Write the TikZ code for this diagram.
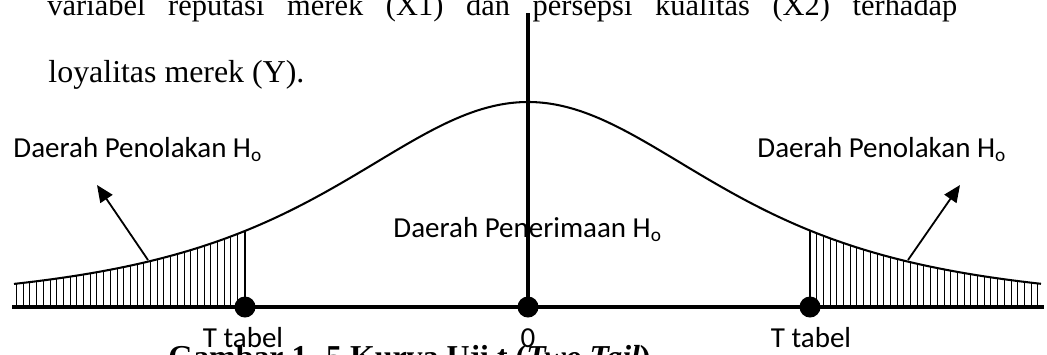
\documentclass[tikz,border=0pt]{standalone}
\usepackage{fontspec}
\setmainfont{Liberation Serif}
\newfontfamily\labfont{Carlito}
\usetikzlibrary{arrows.meta}
\begin{document}
\begin{tikzpicture}[x=0.414pt,y=-0.414pt,
 declare function={hh(\t)=205/((1+((\t-528)/318)^2)^1.7);},
 lab/.style={font=\labfont\fontsize{12}{14}\selectfont, inner sep=0pt},
 body/.style={font=\fontsize{13.2}{15}\selectfont, inner sep=0pt},
 topline/.style={font=\fontsize{12.6}{15}\selectfont, inner sep=0pt},
 axisline/.style={line width=1.3pt},
 curveline/.style={line width=0.85pt},
 hatchline/.style={line width=0.38pt},
 pointer/.style={line width=0.75pt,-{Triangle[length=7pt,width=6pt]}},
 dot/.style={circle,fill=black,minimum size=8.7pt,inner sep=0pt}]
\useasboundingbox (0,0) rectangle (1047,354);
\clip (0,0) rectangle (1047,354);
% surrounding document text
\node[topline,anchor=base west] (t1) at (47,15) {\hbox to 376.7pt{variabel\hfill reputasi\hfill merek\hfill (X1)\hfill dan\hfill persepsi\hfill kualitas\hfill (X2)\hfill terhadap}};
\node[body,anchor=base west] (t2) at (48,82) {loyalitas merek (Y).};
\node[body,anchor=base west,font={\fontsize{13.2}{15}\selectfont\bfseries}] (cap) at (168,367) {Gambar 1. 5 Kurva Uji t (\textit{Two Tail})};
% labels
\node[lab,anchor=base west] (rl) at (13,157) {Daerah Penolakan H\textsubscript{o}};
\node[lab,anchor=base west] (rr) at (757,157) {Daerah Penolakan H\textsubscript{o}};
\node[lab,anchor=base west] (acc) at (393,237) {Daerah Penerimaan H\textsubscript{o}};
\node[lab,anchor=base] (ltl) at (243,347) {T tabel};
\node[lab,anchor=base] (lzero) at (528,347) {0};
\node[lab,anchor=base] (ltr) at (811,347) {T tabel};
% coordinates
\coordinate (xl) at (12,307);
\coordinate (xr) at (1044,307);
\coordinate (ytop) at (528,13);
\coordinate (tlc) at (245,307);
\coordinate (zc) at (528,307);
\coordinate (trc) at (810,307);
\coordinate (tltop) at (245,{307-hh(245)});
\coordinate (trtop) at (810,{307-hh(810)});
\coordinate (al1) at (148,260);
\coordinate (al2) at (97,185);
\coordinate (ar1) at (908,260);
\coordinate (ar2) at (960,185);
% hatching
\foreach \x in {16.5,23.2,...,241} \draw[hatchline] (\x,307) -- (\x,{307-hh(\x)});
\foreach \x in {816.7,823.4,...,1041} \draw[hatchline] (\x,307) -- (\x,{307-hh(\x)});
% curve
\draw[curveline] plot[domain=14:1041,samples=160,smooth] (\x,{307-hh(\x)});
\draw[curveline] (tlc) -- (tltop);
\draw[curveline] (trc) -- (trtop);
% axes
\draw[axisline] (xl) -- (xr);
\draw[axisline] (ytop) -- (zc);
% arrows
\draw[pointer] (al1) -- (al2);
\draw[pointer] (ar1) -- (ar2);
% dots
\node[dot] (dl) at (tlc) {};
\node[dot] (d0) at (zc) {};
\node[dot] (dr) at (trc) {};
\end{tikzpicture}
\end{document}
